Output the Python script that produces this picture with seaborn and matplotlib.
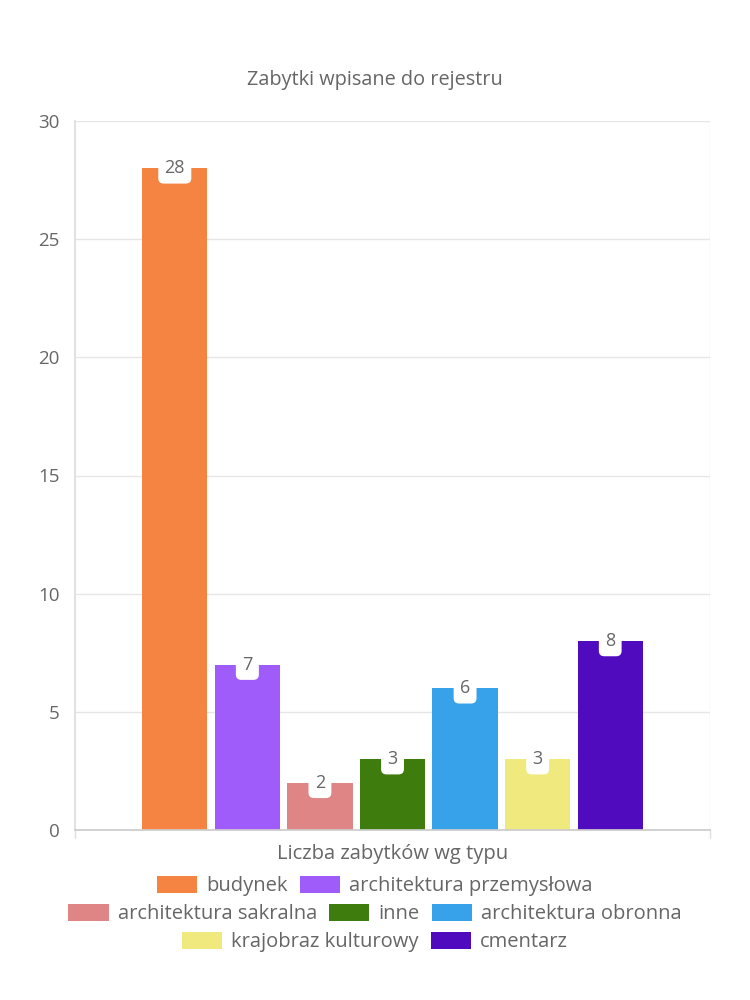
import matplotlib
matplotlib.use("Agg")
import matplotlib.pyplot as plt
import seaborn as sns
import pandas as pd
from matplotlib.patches import Patch

title = "Zabytki wpisane do rejestru"
category = "Liczba zabytków wg typu"
types = ["budynek", "architektura przemysłowa", "architektura sakralna", "inne",
         "architektura obronna", "krajobraz kulturowy", "cmentarz"]
values = [28, 7, 2, 3, 6, 3, 8]
colors = ["#F58443", "#A05CFA", "#E08586", "#3F7C0E", "#37A2EA", "#F0EA7E", "#500BBF"]
yticks = [0, 5, 10, 15, 20, 25, 30]

sns.set_theme(style="white")
plt.rcParams['font.family'] = ['Open Sans', 'DejaVu Sans']
text_color = "#666666"

df = pd.DataFrame({"cat": [category] * len(types), "type": types, "value": values})

fig = plt.figure(figsize=(7.5, 10), dpi=100)
ax = fig.add_axes([0.1, 0.17, 0.8467, 0.709])

sns.barplot(data=df, x="cat", y="value", hue="type", hue_order=types,
            palette=colors, width=0.8, gap=0.1, legend=False, ax=ax,
            saturation=1, edgecolor="none", linewidth=0)

ax.set_ylim(0, 30)
ax.set_xlim(-0.5, 0.5)
ax.set_yticks(yticks)
ax.set_yticklabels([str(t) for t in yticks], fontsize=13.5, color=text_color)
ax.set_xticks([0])
ax.set_xticklabels([category], fontsize=14.5, color=text_color)
ax.set_xlabel("")
ax.set_ylabel("")

for s in ["top", "right"]:
    ax.spines[s].set_visible(False)
ax.spines["left"].set_color("#dddddd")
ax.spines["bottom"].set_color("#cccccc")
ax.yaxis.grid(True, color="#e6e6e6", linewidth=1)
ax.set_axisbelow(True)
ax.axvline(0.5, color="#e6e6e6", linewidth=1, zorder=0)
ax.tick_params(axis="y", length=7, color="#e6e6e6", pad=4)
ax.tick_params(axis="x", length=0, pad=10)
for xv in (-0.5, 0.5):
    ax.plot([xv, xv], [0, -0.35], color="#e0e0e0", lw=1, clip_on=False)

for cont in ax.containers:
    for bar in cont:
        h = bar.get_height()
        x = bar.get_x() + bar.get_width() / 2
        ax.annotate(f"{h:.0f}", (x, h), xytext=(0, 0), textcoords="offset points",
                    ha="center", va="center", fontsize=13, color=text_color,
                    bbox=dict(boxstyle="round,pad=0.35,rounding_size=0.3", fc="white", ec="none"))

fig.text(0.5, 0.92, title, ha="center", va="center", fontsize=14.3, color=text_color)

rows = [[0, 1], [2, 3, 4], [5, 6]]
row_y = [0.114, 0.086, 0.058]
for r, yy in zip(rows, row_y):
    handles = [Patch(facecolor=colors[i], edgecolor="none") for i in r]
    labels = [types[i] for i in r]
    fig.legend(handles, labels, loc="center", bbox_to_anchor=(0.5, yy), ncol=len(r),
               frameon=False, fontsize=14.5, labelcolor=text_color,
               handlelength=2.0, handleheight=0.9, handletextpad=0.45, columnspacing=0.6)

fig.savefig("out.png", dpi=100)
